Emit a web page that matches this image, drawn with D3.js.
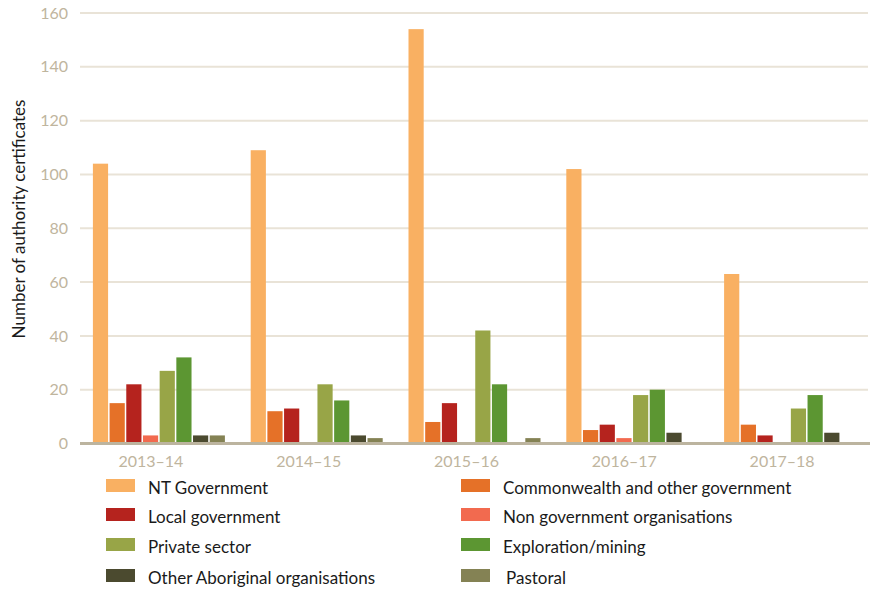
<!DOCTYPE html>
<html>
<head>
<meta charset="utf-8">
<script src="https://cdn.jsdelivr.net/npm/d3@7"></script>
<style>
  html, body { margin: 0; padding: 0; background: #fff; }
  svg { display: block; }
  text { font-family: Lato, "Open Sans", sans-serif; }
</style>
</head>
<body>
<svg id="chart" width="877" height="589"></svg>
<script>
// Authority certificates issued, by applicant type and financial year
const years = ["2013–14", "2014–15", "2015–16", "2016–17", "2017–18"];
const seriesNames = [
  "NT Government",
  "Commonwealth and other government",
  "Local government",
  "Non government organisations",
  "Private sector",
  "Exploration/mining",
  "Other Aboriginal organisations",
  "Pastoral"
];
const ntGovernment   = [104, 109, 154, 102, 63];
const commonwealth   = [15, 12, 8, 5, 7];
const localGov       = [22, 13, 15, 7, 3];
const nonGovOrgs     = [3, 0, 0, 2, 0];
const privateSector  = [27, 22, 42, 18, 13];
const exploration    = [32, 16, 22, 20, 18];
const otherAboriginal = [3, 3, 0, 4, 4];
const pastoral       = [3, 2, 2, 0, 0];
const yTicks = [0, 20, 40, 60, 80, 100, 120, 140, 160];

const seriesValues = [ntGovernment, commonwealth, localGov, nonGovOrgs,
                      privateSector, exploration, otherAboriginal, pastoral];
const colors = ["#f9b062", "#e57128", "#b5231e", "#f26a4f",
                "#98a547", "#5c9632", "#4b4a2f", "#848254"];

const svg = d3.select("#chart");
const plot = { left: 80, right: 869, top: 13, bottom: 443.5 };

const y = d3.scaleLinear().domain([0, 160]).range([plot.bottom, plot.top]);
const x0 = d3.scaleBand().domain(years).range([plot.left, plot.right]).paddingInner(0).paddingOuter(0);
const groupWidth = 132;
const x1 = d3.scaleBand().domain(seriesNames)
  .range([(x0.bandwidth() - groupWidth) / 2, (x0.bandwidth() + groupWidth) / 2])
  .paddingInner(0.09);

// horizontal gridlines
svg.append("g")
  .selectAll("line")
  .data(yTicks.filter(d => d > 0))
  .join("line")
  .attr("x1", plot.left).attr("x2", plot.right - 1)
  .attr("y1", d => y(d)).attr("y2", d => y(d))
  .attr("stroke", "#e9e3d7").attr("stroke-width", 2);

// y axis tick labels
const yAxis = d3.axisLeft(y).tickValues(yTicks).tickSize(0).tickPadding(12);
const gy = svg.append("g").attr("transform", `translate(${plot.left},0)`).call(yAxis);
gy.select(".domain").remove();
gy.selectAll("text")
  .attr("fill", "#bfb59e")
  .style("font-size", "16px")
  .style("font-family", "Lato, 'Open Sans', sans-serif");

// bars
const groups = svg.append("g")
  .selectAll("g")
  .data(years)
  .join("g")
  .attr("transform", d => `translate(${x0(d)},0)`);

groups.selectAll("rect")
  .data((yr, i) => seriesNames.map((s, k) => ({ series: s, value: seriesValues[k][i], k })))
  .join("rect")
  .attr("x", d => x1(d.series))
  .attr("width", x1.bandwidth())
  .attr("y", d => y(d.value))
  .attr("height", d => plot.bottom - y(d.value))
  .attr("fill", d => colors[d.k]);

// baseline
svg.append("line")
  .attr("x1", plot.left).attr("x2", plot.right + 1)
  .attr("y1", plot.bottom).attr("y2", plot.bottom)
  .attr("stroke", "#bcb49f").attr("stroke-width", 3);

// x axis labels
const xAxis = d3.axisBottom(x0).tickSize(0).tickPadding(12);
const gx = svg.append("g").attr("transform", `translate(-8,${plot.bottom})`).call(xAxis);
gx.select(".domain").remove();
gx.selectAll("text")
  .attr("fill", "#bfb59e")
  .style("font-size", "16px")
  .style("font-family", "Lato, 'Open Sans', sans-serif");

// y axis title
svg.append("text")
  .attr("transform", "translate(25,219) rotate(-90)")
  .attr("text-anchor", "middle")
  .attr("fill", "#1a1a1a")
  .style("font-size", "17px")
  .text("Number of authority certificates");

// legend: two columns, four rows
const legendRows = [494, 523, 553, 584];
const legendCols = [{ sw: 106, tx: 148 }, { sw: 461, tx: 503 }];
const legend = svg.append("g")
  .selectAll("g")
  .data(seriesNames)
  .join("g")
  .attr("transform", (d, i) => {
    const col = legendCols[i % 2];
    const row = legendRows[Math.floor(i / 2)];
    return `translate(${col.sw},${row})`;
  });
legend.append("rect")
  .attr("x", 0).attr("y", -15)
  .attr("width", 29).attr("height", 13)
  .attr("fill", (d, i) => colors[i]);
legend.append("text")
  .attr("x", (d, i) => (legendCols[i % 2].tx - legendCols[i % 2].sw) + (d === "Pastoral" ? 3 : 0))
  .attr("y", 0)
  .attr("fill", "#1a1a1a")
  .style("font-size", "17px")
  .text(d => d);
</script>
</body>
</html>
